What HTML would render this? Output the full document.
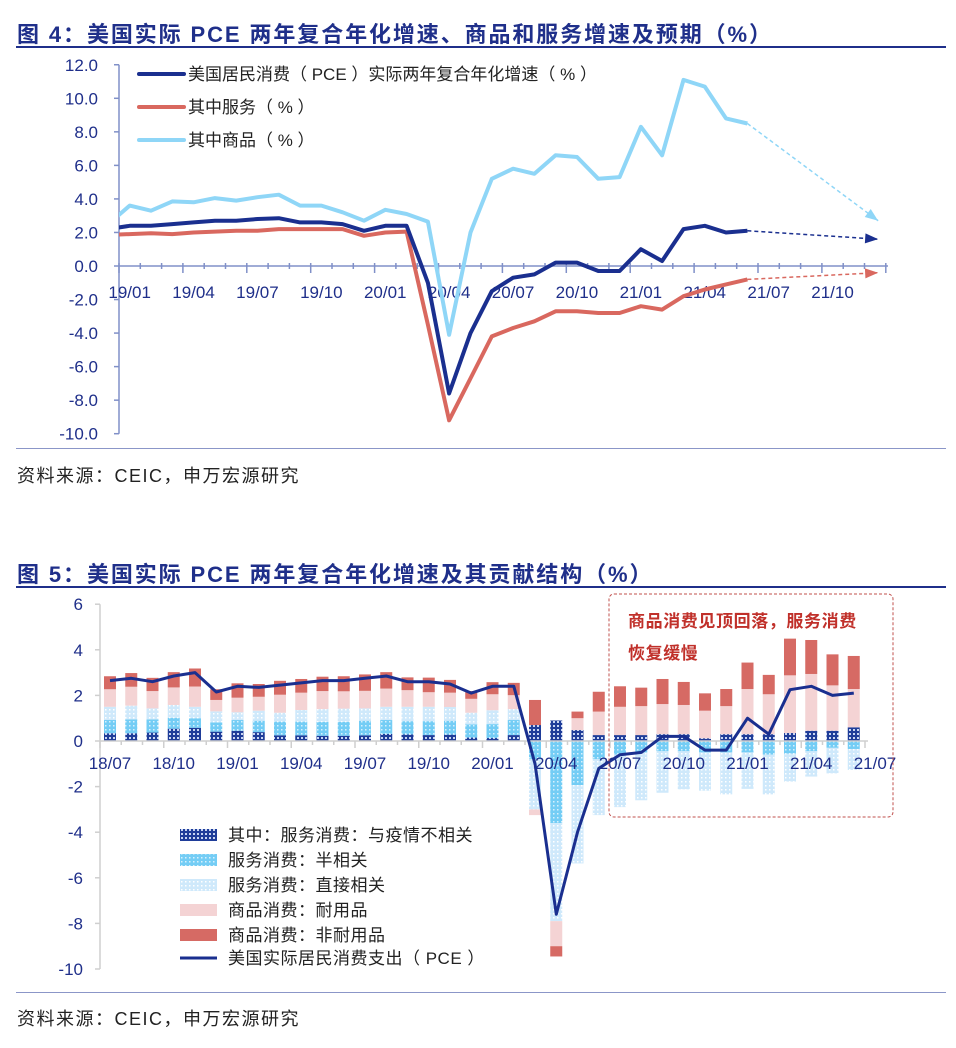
<!DOCTYPE html>
<html><head><meta charset="utf-8">
<style>
html,body{margin:0;padding:0;background:#fff;}
body{width:956px;height:1048px;position:relative;overflow:hidden;font-family:"Liberation Sans","Noto Sans CJK SC",sans-serif;}
.title{position:absolute;left:17px;font-size:22px;font-weight:bold;color:#1f2f8a;white-space:nowrap;letter-spacing:1.9px;}
.rule{position:absolute;left:16px;width:930px;height:2px;background:#1f2f8a;}
.rule2{position:absolute;left:16px;width:930px;height:1px;background:#8b96c8;}
.src{position:absolute;left:17px;font-size:18px;color:#222;white-space:nowrap;letter-spacing:1.5px;}
svg{position:absolute;left:0;top:0;}
</style></head>
<body>
<div class="title" style="top:17px;">图 4：美国实际 PCE 两年复合年化增速、商品和服务增速及预期（%）</div>
<div class="rule" style="top:46px;"></div>
<div class="rule2" style="top:448px;"></div>
<div class="src" style="top:462px;">资料来源：CEIC，申万宏源研究</div>
<div class="title" style="top:557px;">图 5：美国实际 PCE 两年复合年化增速及其贡献结构（%）</div>
<div class="rule" style="top:586px;"></div>
<div class="rule2" style="top:992px;"></div>
<div class="src" style="top:1005px;">资料来源：CEIC，申万宏源研究</div>

<svg id="c1" width="956" height="450"></svg>
<svg id="c2" width="956" height="1000"></svg>

<script>
// ---------- Chart 4 data ----------
const c1Months = ["18/12","19/01","19/02","19/03","19/04","19/05","19/06","19/07","19/08","19/09","19/10","19/11","19/12","20/01","20/02","20/03","20/04","20/05","20/06","20/07","20/08","20/09","20/10","20/11","20/12","21/01","21/02","21/03","21/04","21/05","21/06"];
const pceSeries = [2.2,2.4,2.4,2.5,2.6,2.7,2.7,2.8,2.85,2.6,2.6,2.5,2.1,2.4,2.4,-1.0,-7.6,-4.0,-1.5,-0.7,-0.5,0.2,0.2,-0.3,-0.3,1.0,0.3,2.2,2.4,2.0,2.1];
const svcSeries = [1.85,1.9,1.95,1.9,2.0,2.05,2.1,2.1,2.2,2.2,2.2,2.2,1.8,2.0,2.05,-3.5,-9.2,-6.7,-4.2,-3.7,-3.3,-2.7,-2.7,-2.8,-2.8,-2.4,-2.6,-1.8,-1.4,-1.1,-0.8];
const goodsSeries = [2.5,3.6,3.3,3.85,3.8,4.05,3.9,4.1,4.25,3.6,3.6,3.2,2.7,3.35,3.1,2.65,-4.1,2.0,5.2,5.8,5.5,6.6,6.5,5.2,5.3,8.3,6.6,11.1,10.7,8.8,8.5];
const c1Ticks = [12,10,8,6,4,2,0,-2,-4,-6,-8,-10];
const c1XLabels = ["19/01","19/04","19/07","19/10","20/01","20/04","20/07","20/10","21/01","21/04","21/07","21/10"];
const forecastEnd = [2.7,1.6,-0.4]; // goods, pce, services expectations

const NS="http://www.w3.org/2000/svg";
function mk(svg,tag,attrs,name,inter){const e=document.createElementNS(NS,tag);for(const k in attrs)e.setAttribute(k,attrs[k]);


svg.appendChild(e);return e;}

(function(){
const s=document.getElementById('c1');
const y0=266, unit=16.77, x0=119, step=21.3;
const Y=v=>y0-v*unit;
const X=i=>x0+10.65+(i-1)*step;
const axc="#8090c8", tc="#1f2f8a";
const defs=mk(s,'defs',{},'defs',false);
const cp=document.createElementNS(NS,'clipPath');cp.setAttribute('id','clip1');
const r=document.createElementNS(NS,'rect');r.setAttribute('x',x0);r.setAttribute('y',0);r.setAttribute('width',800);r.setAttribute('height',450);cp.appendChild(r);defs.appendChild(cp);
mk(s,'line',{x1:x0,y1:Y(12),x2:x0,y2:Y(-10),stroke:axc,'stroke-width':1.5},'y-axis',false);
c1Ticks.forEach(t=>{
 mk(s,'line',{x1:x0-5,y1:Y(t),x2:x0,y2:Y(t),stroke:axc,'stroke-width':1.5},'y-tick',false);
 const tx=mk(s,'text',{x:x0-21,y:Y(t)+6,'text-anchor':'end','font-size':17,fill:tc},'y-tick-label',false);tx.textContent=t.toFixed(1);
});
mk(s,'line',{x1:x0,y1:y0,x2:888,y2:y0,stroke:axc,'stroke-width':1.5},'x-axis',false);
for(let k=0;k<=36;k++){const x=x0+k*step;const maj=k%3===0;
 mk(s,'line',{x1:x,y1:y0-3,x2:x,y2:y0+(maj?7:3),stroke:axc,'stroke-width':1.5},'x-tick',false);}
c1XLabels.forEach((l,k)=>{const t=mk(s,'text',{x:X(1+k*3),y:y0+32,'text-anchor':'middle','font-size':17,fill:tc},'x-tick-label',false);t.textContent=l;});
function line(arr,col,name){const d=arr.map((v,i)=>(i?'L':'M')+X(i).toFixed(1)+','+Y(v).toFixed(1)).join(' ');
 mk(s,'path',{d:d,fill:'none',stroke:col,'stroke-width':4,'stroke-linejoin':'round','clip-path':'url(#clip1)'},name,false);}
line(svcSeries,'#d9685f','services-line');
line(goodsSeries,'#8fd6f7','goods-line');
line(pceSeries,'#1a2f8f','pce-line');
const last=c1Months.length-1, xe=X(last), xf=X(last+6)+3;
const fc=[['#8fd6f7',goodsSeries[last],forecastEnd[0],'goods-forecast-arrow'],['#1a2f8f',pceSeries[last],forecastEnd[1],'pce-forecast-arrow'],['#d9685f',svcSeries[last],forecastEnd[2],'services-forecast-arrow']];
fc.forEach(f=>{const x1=xe,y1=Y(f[1]),x2=xf,y2=Y(f[2]);
 mk(s,'line',{x1:x1,y1:y1,x2:x2,y2:y2,stroke:f[0],'stroke-width':1.5,'stroke-dasharray':'4,3'},f[3],false);
 const a=Math.atan2(y2-y1,x2-x1),L=13,W=5;
 const p=[[x2,y2],[x2-L*Math.cos(a)+W*Math.sin(a),y2-L*Math.sin(a)-W*Math.cos(a)],[x2-L*Math.cos(a)-W*Math.sin(a),y2-L*Math.sin(a)+W*Math.cos(a)]];
 mk(s,'polygon',{points:p.map(q=>q.join(',')).join(' '),fill:f[0]},f[3]+'-head',false);});
const leg=[['#1a2f8f','美国居民消费（ PCE ）实际两年复合年化增速（ % ）'],['#d9685f','其中服务（ % ）'],['#8fd6f7','其中商品（ % ）']];
leg.forEach((g,k)=>{const y=74+k*33;
 mk(s,'line',{x1:139,y1:y,x2:184,y2:y,stroke:g[0],'stroke-width':4,'stroke-linecap':'round'},'legend-swatch',false);
 const t=mk(s,'text',{x:188,y:y+6,'font-size':17,fill:'#222'},'legend-entry',true);t.textContent=g[1];});
})();

// ---------- Chart 5 data ----------
const c5Months = ["18/07","18/08","18/09","18/10","18/11","18/12","19/01","19/02","19/03","19/04","19/05","19/06","19/07","19/08","19/09","19/10","19/11","19/12","20/01","20/02","20/03","20/04","20/05","20/06","20/07","20/08","20/09","20/10","20/11","20/12","21/01","21/02","21/03","21/04","21/05","21/06"];
const svcUnrelated = [0.34,0.34,0.37,0.54,0.58,0.41,0.45,0.39,0.25,0.25,0.23,0.23,0.25,0.31,0.29,0.26,0.28,0.15,0.13,0.26,0.7,0.9,0.48,0.26,0.26,0.26,0.3,0.3,0.12,0.3,0.3,0.3,0.35,0.45,0.45,0.6];
const svcSemi = [0.58,0.61,0.58,0.48,0.42,0.41,0.47,0.5,0.6,0.6,0.61,0.61,0.64,0.61,0.58,0.61,0.61,0.58,0.61,0.66,-0.8,-3.6,-1.93,-0.8,-0.6,-0.5,-0.45,-0.45,-0.5,-0.5,-0.5,-0.6,-0.55,-0.45,-0.3,-0.35];
const svcDirect = [0.58,0.6,0.48,0.56,0.5,0.48,0.34,0.44,0.39,0.51,0.56,0.58,0.54,0.58,0.63,0.63,0.6,0.51,0.61,0.48,-2.2,-4.3,-3.44,-2.45,-2.3,-2.1,-1.82,-1.67,-1.68,-1.84,-1.6,-1.74,-1.23,-1.11,-1.12,-0.92];
const durables = [0.77,0.83,0.76,0.77,0.89,0.5,0.64,0.61,0.79,0.76,0.79,0.76,0.77,0.8,0.73,0.64,0.63,0.61,0.7,0.61,-0.25,-1.1,0.52,1.03,1.24,1.27,1.32,1.28,1.21,1.23,1.98,1.75,2.53,2.49,1.99,1.68];
const nondurables = [0.57,0.6,0.58,0.67,0.79,0.47,0.63,0.56,0.61,0.6,0.63,0.66,0.72,0.72,0.56,0.64,0.56,0.34,0.53,0.54,1.1,-0.45,0.29,0.87,0.9,0.81,1.1,1.01,0.76,0.75,1.16,0.85,1.61,1.49,1.36,1.45];
const pceTotal = [2.65,2.75,2.6,2.85,3.0,2.15,2.4,2.35,2.45,2.55,2.65,2.65,2.75,2.85,2.6,2.6,2.5,2.1,2.4,2.4,-1.0,-7.6,-4.0,-1.2,-0.6,-0.5,0.2,0.2,-0.4,-0.4,1.0,0.3,2.25,2.4,2.0,2.1];
const c5Ticks = [6,4,2,0,-2,-4,-6,-8,-10];
const c5XLabels = ["18/07","18/10","19/01","19/04","19/07","19/10","20/01","20/04","20/07","20/10","21/01","21/04","21/07"];

(function(){
const s=document.getElementById('c2');
const y0=741, unit=22.8, x0=100, step=21.25;
const Y=v=>y0-v*unit;
const X=i=>110+i*step;
const tc="#1f2f8a", gc="#cfcfcf";
const defs=mk(s,'defs',{},'patterns',false);
defs.innerHTML=
 '<pattern id="pDark" width="4" height="4" patternUnits="userSpaceOnUse"><rect width="4" height="4" fill="#1f3d99"/><rect x="1" y="1" width="2" height="2" fill="#c9d6f2"/></pattern>'+
 '<pattern id="pSemi" width="4" height="4" patternUnits="userSpaceOnUse"><rect width="4" height="4" fill="#74cdf5"/><rect x="1" y="1" width="1.5" height="1.5" fill="#d8f1fd"/></pattern>'+
 '<pattern id="pDirect" width="4" height="4" patternUnits="userSpaceOnUse"><rect width="4" height="4" fill="#cfe9fb"/><rect x="1" y="1" width="1.5" height="1.5" fill="#ffffff"/></pattern>';
mk(s,'line',{x1:x0,y1:Y(6),x2:x0,y2:Y(-10),stroke:gc,'stroke-width':1.5},'y-axis',false);
c5Ticks.forEach(t=>{
 mk(s,'line',{x1:x0-5,y1:Y(t),x2:x0,y2:Y(t),stroke:gc,'stroke-width':1.5},'y-tick',false);
 const tx=mk(s,'text',{x:x0-17,y:Y(t)+6,'text-anchor':'end','font-size':17,fill:tc},'y-tick-label',false);tx.textContent=t;});
const series=[[svcUnrelated,'url(#pDark)','bar-svc-unrelated'],[svcSemi,'url(#pSemi)','bar-svc-semi'],[svcDirect,'url(#pDirect)','bar-svc-direct'],[durables,'#f4d3d4','bar-durables'],[nondurables,'#d66a64','bar-nondurables']];
const bw=12;
c5Months.forEach((m,i)=>{let pos=0,neg=0;
 series.forEach(sr=>{const v=sr[0][i];let top,bot;
  if(v>=0){bot=pos;top=pos+v;pos=top;}else{top=neg;bot=neg+v;neg=bot;}
  mk(s,'rect',{x:X(i)-bw/2,y:Y(top),width:bw,height:Math.max(0,(top-bot)*unit),fill:sr[1]},sr[2],false);});});
mk(s,'line',{x1:x0,y1:y0,x2:868,y2:y0,stroke:gc,'stroke-width':1.5},'x-axis',false);
for(let k=0;k<=36;k++){const x=x0+k*step;mk(s,'line',{x1:x,y1:y0,x2:x,y2:y0+(k%3===0?7:4),stroke:gc,'stroke-width':1.5},'x-tick',false);}
c5XLabels.forEach((l,k)=>{const t=mk(s,'text',{x:X(k*3),y:y0+28,'text-anchor':'middle','font-size':17,fill:tc},'x-tick-label',false);t.textContent=l;});
const d=pceTotal.map((v,i)=>(i?'L':'M')+X(i).toFixed(1)+','+Y(v).toFixed(1)).join(' ');
mk(s,'path',{d:d,fill:'none',stroke:'#1a2f8f','stroke-width':3,'stroke-linejoin':'round'},'pce-line',false);
mk(s,'rect',{x:609,y:594,width:284,height:223,rx:5,fill:'none',stroke:'#c0504d','stroke-width':1,'stroke-dasharray':'3,2'},'annotation-box',false);
const a1=mk(s,'text',{x:628,y:627,'font-size':17,'font-weight':'bold',fill:'#c0302a','letter-spacing':0.6},'annotation-text',false);a1.textContent='商品消费见顶回落，服务消费';
const a2=mk(s,'text',{x:628,y:659,'font-size':17,'font-weight':'bold',fill:'#c0302a','letter-spacing':0.6},'annotation-text',false);a2.textContent='恢复缓慢';
const leg=[['url(#pDark)','其中：服务消费：与疫情不相关'],['url(#pSemi)','服务消费：半相关'],['url(#pDirect)','服务消费：直接相关'],['#f4d3d4','商品消费：耐用品'],['#d66a64','商品消费：非耐用品']];
leg.forEach((g,k)=>{const y=835+k*25;
 mk(s,'rect',{x:180,y:y-6,width:37,height:12,fill:g[0]},'legend-swatch',false);
 const t=mk(s,'text',{x:228,y:y+6,'font-size':17,fill:'#222','letter-spacing':0.5},'legend-entry',true);t.textContent=g[1];});
mk(s,'line',{x1:180,y1:958,x2:217,y2:958,stroke:'#1a2f8f','stroke-width':3},'legend-swatch',false);
const tl=mk(s,'text',{x:228,y:964,'font-size':17,fill:'#222','letter-spacing':0.5},'legend-entry',true);tl.textContent='美国实际居民消费支出（ PCE ）';
})();
</script>
</body></html>
